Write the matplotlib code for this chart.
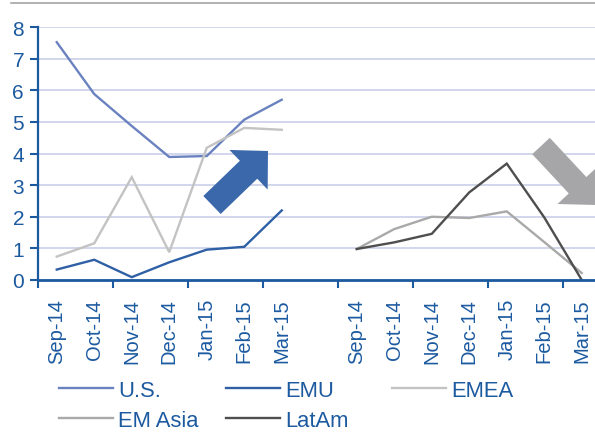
from matplotlib import pyplot as plt
from matplotlib.lines import Line2D
from matplotlib.patches import FancyArrow
import numpy as np

plt.rcParams['font.family'] = ['Liberation Sans', 'DejaVu Sans']

months = ['Sep-14', 'Oct-14', 'Nov-14', 'Dec-14', 'Jan-15', 'Feb-15', 'Mar-15']

# developed / EMEA panel
us = [7.52, 5.88, 4.87, 3.89, 3.92, 5.07, 5.70]
emu = [0.33, 0.64, 0.09, 0.56, 0.96, 1.05, 2.20]
emea = [0.74, 1.16, 3.25, 0.88, 4.18, 4.81, 4.75]

# second panel
em_asia = [0.98, 1.61, 2.00, 1.96, 2.17, 1.20, 0.22]
latam = [0.98, 1.19, 1.46, 2.77, 3.68, 1.98, 0.00]

series_names = ['U.S.', 'EMU', 'EMEA', 'EM Asia', 'LatAm']
series_colors = ['#6a82bf', '#2f60a6', '#c3c3c3', '#a9a9a9', '#4e4e4e']

y_ticks = [0, 1, 2, 3, 4, 5, 6, 7, 8]

text_blue = '#1c5aa0'
W, H = 595, 439


def px_to_in(x, y):
    # image pixel coords (y down) -> figure inches (y up)
    return x / 100, (H - y) / 100


def add_arrow(fig, tail, tip, width, head_width, head_length, color):
    x0, y0 = px_to_in(*tail)
    x1, y1 = px_to_in(*tip)
    arr = FancyArrow(x0, y0, x1 - x0, y1 - y0, width=width / 100,
                     head_width=head_width / 100, head_length=head_length / 100,
                     length_includes_head=True, color=color, lw=0,
                     transform=fig.dpi_scale_trans)
    fig.add_artist(arr)


fig = plt.figure(figsize=(W / 100, H / 100), dpi=100)
n_cat = 2 * len(months) + 1
cat_w = 37.5
ax = fig.add_axes([38 / W, 1 - 281 / H, n_cat * cat_w / W, 253 / H])

x_left = np.arange(len(months))
x_right = x_left + len(months) + 1

groups = [x_left, x_left, x_left, x_right, x_right]
values = [us, emu, emea, em_asia, latam]
handles = []
for xs, ys, name, col in zip(groups, values, series_names, series_colors):
    ln, = ax.plot(xs, ys, color=col, lw=1.7, label=name, solid_joinstyle='miter', clip_on=False)
    handles.append(ln)

ax.set_xlim(-0.5, n_cat - 0.5)
ax.set_ylim(0, 8)
ax.set_yticks(y_ticks)
ax.set_yticklabels([str(v) for v in y_ticks])
ax.yaxis.grid(True, color='#c9d0e8', lw=1.2)
ax.set_axisbelow(True)

# category labels at centres, tick marks every second boundary
ax.set_xticks(list(x_left) + list(x_right))
ax.set_xticklabels(months + months, rotation=90)
ax.set_xticks(np.arange(-0.5, n_cat - 0.5, 2), minor=True)
ax.tick_params(axis='x', which='major', length=0, pad=13, labelsize=14.5, labelcolor=text_blue)
ax.tick_params(axis='x', which='minor', length=6, width=1.5, color=text_blue)
ax.tick_params(axis='y', length=6, width=1.5, color=text_blue, pad=4, labelsize=15, labelcolor=text_blue)

for side in ['top', 'right']:
    ax.spines[side].set_visible(False)
ax.spines['left'].set_color(text_blue)
ax.spines['left'].set_linewidth(1.6)
ax.spines['bottom'].set_color(text_blue)
ax.spines['bottom'].set_linewidth(2.0)

# thin grey rule along the top
fig.add_artist(Line2D([11 / W, 1], [1 - 4 / H, 1 - 4 / H], color='#9c9c9c', lw=1.1,
                      transform=fig.transFigure))

add_arrow(fig, (212, 206), (268, 152), 25, 55, 27, '#3a68aa')
add_arrow(fig, (541, 147), (596, 206), 24, 55, 27, '#a6a6a8')

# legend laid out row-wise like the original, one legend per column
columns = [[0, 3], [1, 4], [2]]
col_x = [59, 226, 392]
for idx, cx in zip(columns, col_x):
    fig.legend([handles[i] for i in idx], [series_names[i] for i in idx],
               loc='upper left', bbox_to_anchor=(cx / W, 1 - 381 / H),
               frameon=False, fontsize=15.8, handlelength=2.46, handletextpad=0.23,
               labelspacing=0.4, borderpad=0, borderaxespad=0, labelcolor=text_blue)

fig.savefig('out.png', dpi=100)
